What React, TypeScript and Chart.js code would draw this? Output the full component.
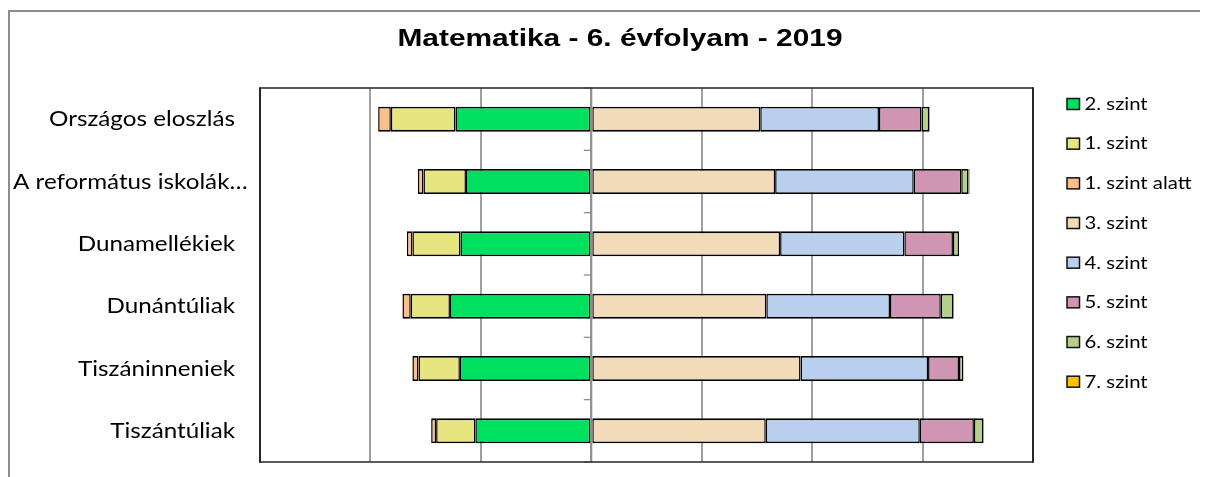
import React, { useEffect, useRef } from "react";
import { Chart, registerables } from "chart.js";

Chart.register(...registerables);

const chartTitle = "Matematika - 6. évfolyam - 2019";

const categories = [
  "Országos eloszlás",
  "A református iskolák…",
  "Dunamellékiek",
  "Dunántúliak",
  "Tiszáninneniek",
  "Tiszántúliak",
];

const seriesNames = [
  "2. szint",
  "1. szint",
  "1. szint alatt",
  "3. szint",
  "4. szint",
  "5. szint",
  "6. szint",
  "7. szint",
];

const level2 = [-24.6, -22.7, -23.7, -25.6, -23.8, -21.0];
const level1 = [-11.7, -7.7, -8.7, -7.1, -7.5, -7.1];
const belowLevel1 = [-2.3, -1.0, -1.0, -1.5, -1.1, -0.9];
const level3 = [30.6, 33.3, 34.2, 31.7, 37.9, 31.6];
const level4 = [21.5, 25.1, 22.5, 22.4, 23.1, 27.9];
const level5 = [7.7, 8.6, 8.8, 9.2, 5.6, 9.8];
const level6 = [1.4, 1.3, 1.1, 2.3, 0.8, 1.7];
const level7 = [0.1, 0.2, 0.0, 0.1, 0.0, 0.1];

const seriesValues = [level2, level1, belowLevel1, level3, level4, level5, level6, level7];

const seriesColors = [
  "#00e060",
  "#e7e57f",
  "#fbbf8c",
  "#f2dbb8",
  "#b9cfee",
  "#cf95b3",
  "#b6d08a",
  "#ffc000",
];

const xTickMin = -60;
const xTickMax = 80;
const xTickStep = 20;

const TEXT_FONT = "Lato";
const TITLE_FONT = "'Liberation Sans', Arial, sans-serif";

function stretchedText(
  ctx: CanvasRenderingContext2D,
  text: string,
  x: number,
  y: number,
  align: CanvasTextAlign,
  sx: number
) {
  ctx.save();
  ctx.translate(x, y);
  ctx.scale(sx, 1);
  ctx.textAlign = align;
  ctx.fillText(text, 0, 0);
  ctx.restore();
}

const decorPlugin = {
  id: "decor",
  afterDraw(chart: any) {
    const { ctx, chartArea, scales, width } = chart;
    const xs = scales.x;
    const ys = scales.y;
    ctx.save();

    // zero axis line on top of bars
    const x0 = xs.getPixelForValue(0);
    ctx.strokeStyle = "#8f8f8f";
    ctx.lineWidth = 2;
    ctx.beginPath();
    ctx.moveTo(x0, chartArea.top);
    ctx.lineTo(x0, chartArea.bottom);
    ctx.stroke();

    // category boundary ticks on the zero axis
    ctx.lineWidth = 1.3;
    const n = categories.length;
    for (let i = 0; i <= n; i++) {
      let y;
      if (i === 0) y = chartArea.top;
      else if (i === n) y = chartArea.bottom;
      else y = (ys.getPixelForValue(i - 1) + ys.getPixelForValue(i)) / 2;
      ctx.beginPath();
      ctx.moveTo(x0 - 7.5, y);
      ctx.lineTo(x0, y);
      ctx.stroke();
    }

    // frame around plot area
    ctx.strokeStyle = "#262626";
    ctx.lineWidth = 1.3;
    ctx.beginPath();
    ctx.moveTo(chartArea.left, chartArea.top);
    ctx.lineTo(chartArea.right, chartArea.top);
    ctx.moveTo(chartArea.left, chartArea.bottom);
    ctx.lineTo(chartArea.right, chartArea.bottom);
    ctx.stroke();
    ctx.lineWidth = 2;
    ctx.beginPath();
    ctx.moveTo(chartArea.left, chartArea.top - 0.65);
    ctx.lineTo(chartArea.left, chartArea.bottom + 0.65);
    ctx.moveTo(chartArea.right, chartArea.top - 0.65);
    ctx.lineTo(chartArea.right, chartArea.bottom + 0.65);
    ctx.stroke();

    // title
    ctx.fillStyle = "#000";
    ctx.font = `bold 24px ${TITLE_FONT}`;
    ctx.textBaseline = "alphabetic";
    stretchedText(ctx, chartTitle, width / 2, 34, "center", 1.245);

    // category labels
    ctx.font = `22px ${TEXT_FONT}`;
    ctx.textBaseline = "middle";
    const labelStretch = 1.1;
    const labelRight = chartArea.left - 25;
    const labelMinLeft = 3;
    categories.forEach((label, i) => {
      const y = ys.getPixelForValue(i);
      const w = ctx.measureText(label).width * labelStretch;
      if (labelRight - w < labelMinLeft) stretchedText(ctx, label, labelMinLeft, y, "left", labelStretch);
      else stretchedText(ctx, label, labelRight, y, "right", labelStretch);
    });

    // legend
    const boxW = 12.5;
    const boxH = 11;
    const lx = chartArea.right + 34;
    const spacing = 39.67;
    ctx.font = `16.5px ${TEXT_FONT}`;
    ctx.textBaseline = "middle";
    chart.data.datasets.forEach((ds: any, i: number) => {
      const cy = chartArea.top + 16 + i * spacing;
      ctx.fillStyle = ds.backgroundColor;
      ctx.fillRect(lx, cy - boxH / 2, boxW, boxH);
      ctx.strokeStyle = "#111";
      ctx.lineWidth = 1.5;
      ctx.strokeRect(lx, cy - boxH / 2, boxW, boxH);
      ctx.fillStyle = "#000";
      stretchedText(ctx, ds.label, lx + 17.6, cy + 0.5, "left", 1.23);
    });
    ctx.restore();
  },
};

export default function App() {
  const canvasRef = useRef<HTMLCanvasElement | null>(null);

  useEffect(() => {
    if (!canvasRef.current) return;
    const chart = new Chart(canvasRef.current, {
      type: "bar",
      data: {
        labels: categories,
        datasets: seriesNames.map((name, i) => ({
          label: name,
          data: seriesValues[i],
          backgroundColor: seriesColors[i],
          borderColor: "#000000",
          borderWidth: { top: 1.8, bottom: 1.8, left: 1.5, right: 1.5 },
          borderSkipped: false,
          barPercentage: 0.4,
          categoryPercentage: 1.0,
          stack: "s",
        })),
      },
      options: {
        indexAxis: "y",
        animation: false,
        responsive: false,
        layout: { padding: { left: 0, right: 0, top: 76, bottom: 30 } },
        plugins: {
          legend: { display: false },
          tooltip: { enabled: false },
          title: { display: false },
        },
        scales: {
          x: {
            type: "linear",
            stacked: true,
            min: xTickMin,
            max: xTickMax,
            ticks: { display: false, stepSize: xTickStep },
            grid: { color: "#a0a0a0", lineWidth: 2, drawTicks: false },
            border: { display: false },
          },
          y: {
            type: "category",
            stacked: true,
            position: "left",
            grid: { display: false, drawTicks: false },
            border: { display: false },
            ticks: { display: false },
            afterFit: (s: any) => {
              s.width = 250;
            },
          },
          yLegendSpace: {
            type: "category",
            position: "right",
            grid: { display: false, drawTicks: false },
            border: { display: false },
            ticks: { display: false },
            afterFit: (s: any) => {
              s.width = 197;
            },
          },
        },
      },
      plugins: [decorPlugin],
    });
    return () => chart.destroy();
  }, []);

  return (
    <div style={{ width: 1200, height: 469, overflow: "hidden" }}>
      <div
        style={{
          marginTop: 2,
          width: 1220,
          height: 480,
          border: "2px solid #8c8c8c",
          background: "#fff",
        }}
      >
        <canvas ref={canvasRef} width={1220} height={480} style={{ display: "block", width: 1220, height: 480 }} />
      </div>
    </div>
  );
}
